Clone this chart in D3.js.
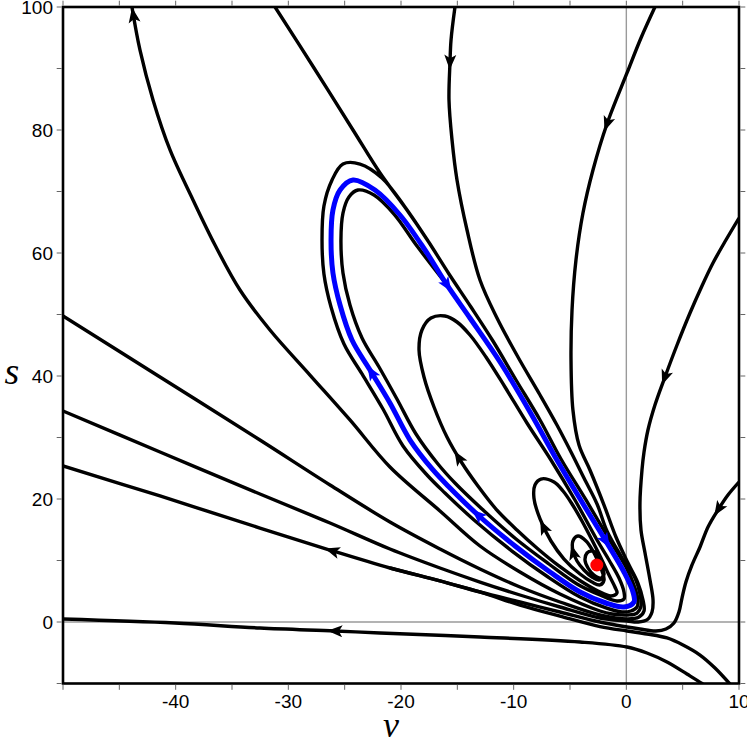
<!DOCTYPE html>
<html><head><meta charset="utf-8">
<script src="https://cdn.jsdelivr.net/npm/d3@7"></script>
<style>
html,body{margin:0;padding:0;background:#fff;}
svg{display:block;}
</style></head>
<body>
<svg id="chart" width="747" height="744"></svg>
<script>
// ---------- axis ticks ----------
const xTicks = d3.range(-50, 10.001, 5);
const xTickLabels = [-40, -30, -20, -10, 0, 10];
const yTicks = d3.range(-10, 100.001, 10);
const yTickLabels = [0, 20, 40, 60, 80, 100];

// ---------- data (v, s) ----------
const fixedPoint = [-2.62, 9.27];

const limitCycle = [[-24.26,71.87],[-22.31,70.24],[-20.09,66.18],[-17.87,60.49],[-15.92,54.80],[-13.88,49.43],[-11.21,42.28],[-8.55,34.15],[-6.16,26.34],[-3.94,19.51],[-1.72,12.85],[-0.21,8.13],[0.59,4.88],[0.68,3.25],[-0.21,2.44],[-1.81,3.09],[-4.11,4.88],[-6.78,8.13],[-9.88,12.36],[-13.17,17.40],[-15.65,21.79],[-17.16,24.72],[-19.20,29.59],[-20.98,35.61],[-22.75,40.98],[-24.35,45.85],[-25.41,51.54],[-26.04,56.75],[-26.21,62.11],[-26.04,66.99],[-25.41,70.24]];

const spiral = [[-2.60,9.27],[-2.25,8.78],[-1.98,7.80],[-2.25,7.15],[-2.87,7.64],[-3.40,8.78],[-3.67,10.08],[-3.49,11.22],[-3.05,11.54],
[-2.60,11.06],[-2.25,9.92],[-2.07,8.62],[-2.07,7.48],[-2.43,6.83],[-3.05,7.32],[-3.76,8.46],[-4.38,9.92],[-4.74,11.54],[-4.74,13.17],[-4.29,13.98],
[-3.58,13.17],[-2.96,11.54],[-2.52,9.92],[-2.16,8.29],[-1.98,6.83],[-2.34,6.02],[-3.05,6.50],[-4.11,7.80],[-5.53,10.24],[-6.69,13.17],[-7.66,16.75],[-8.20,20.16],[-8.11,22.28],[-7.58,23.25],
[-6.42,22.76],[-5.62,21.30],[-4.82,19.19],[-3.94,16.42],[-3.05,13.33],[-2.25,10.41],[-1.54,7.64],[-1.01,5.69],[-0.83,4.72],[-1.36,4.23],[-2.52,5.04],[-4.20,6.83],[-5.98,9.11],[-7.84,11.87],[-9.71,14.96],[-11.57,18.37],[-13.17,22.11],[-14.59,25.85],[-15.92,30.08],[-17.07,34.96],[-17.96,39.84],[-18.40,44.23],[-18.14,47.48],[-17.34,49.43],[-16.10,49.76],
[-15.03,48.78],[-13.88,46.67],[-12.46,43.09],[-10.77,38.21],[-8.82,32.36],[-6.69,26.34],[-4.56,19.84],[-2.60,13.33],[-1.54,10.08],[-0.65,7.15],[-0.21,4.88],[-0.21,3.74],[-0.83,3.41],[-2.34,4.39],[-4.38,6.18],[-6.87,9.43],[-9.79,13.50],[-12.81,18.37],[-15.21,22.60],[-16.72,25.69],[-18.67,30.57],[-20.36,36.26],[-21.95,41.46],[-23.46,46.18],[-24.53,51.54],[-25.15,56.75],[-25.33,62.11],[-25.15,66.50],[-24.62,69.11],[-23.82,70.24],[-22.40,69.43],[-20.62,66.34],[-18.58,61.14],[-15.92,54.80]];

const trajB = [[-31.18,100],[-27.72,90.08],[-24.26,80.00],[-21.86,73.01],[-19.47,66.99],[-17.60,61.95],[-15.74,56.59],[-13.79,51.22],[-11.84,45.69],[-9.79,39.35],[-7.66,32.85],[-5.80,26.50],[-3.58,19.84],[-1.54,13.50],[0.06,8.62],[0.77,5.53],[1.03,3.58],[0.95,2.44],[0.41,1.79],[-0.39,1.63],[-1.81,2.28],[-4.11,4.07],[-6.95,7.32],[-10.15,11.54],[-13.52,16.59],[-16.10,20.98],[-17.69,23.90],[-19.82,28.62],[-21.60,34.63],[-23.46,40.33],[-25.06,45.20],[-26.21,51.22],[-26.84,56.59],[-27.01,62.11],[-26.84,67.64],[-26.12,71.87],[-25.15,74.47],[-23.64,74.47],[-21.69,72.20],[-19.65,67.48],[-17.60,61.95]];

const trajC = [[-15.21,100],[-15.56,94.63],[-15.65,91.06],[-15.74,84.88],[-15.47,78.37],[-15.03,71.87],[-14.14,63.74],[-12.99,55.61],[-11.48,49.43],[-9.62,43.09],[-7.66,36.91],[-6.16,32.03],[-4.91,27.64],[-3.76,23.41],[-2.60,19.19],[-1.72,14.80],[-0.47,10.73],[0.77,7.15],[1.21,4.55],[1.30,2.60],[0.95,1.46],[0.15,1.14],[-1.27,1.30],[-2.34,1.79],[-5.89,4.55],[-9.44,8.13],[-12.99,12.36],[-16.54,18.05],[-20.98,25.20],[-24.53,32.85],[-28.08,40.16],[-31.63,47.48],[-34.29,53.98],[-36.51,61.30],[-38.46,68.62],[-40.50,76.75],[-42.01,84.88],[-43.17,93.01],[-43.88,100]];

const trajD = [[2.54,100],[1.30,94.96],[0.06,89.27],[-1.72,80.98],[-2.96,73.50],[-3.85,66.50],[-4.47,58.86],[-4.82,50.73],[-4.91,42.60],[-4.74,34.47],[-4.20,28.78],[-3.23,24.72],[-1.98,19.02],[-0.92,13.82],[0.15,9.59],[1.03,6.34],[1.48,3.58],[1.57,1.79],[1.12,0.81],[0.15,0.49],[-2.34,1.14],[-5.89,3.25],[-9.44,5.69],[-12.99,8.62],[-16.54,11.87],[-20.98,16.26],[-26.30,22.28],[-32.52,29.59],[-41.39,39.84],[-50,49.76]];

const trajE = [[10.0,65.69],[8.84,62.11],[7.69,58.37],[6.63,54.31],[5.65,50.24],[4.50,45.04],[3.43,39.84],[2.54,35.28],[1.92,31.22],[1.57,27.64],[1.39,24.72],[1.21,19.35],[1.30,14.96],[1.66,11.22],[2.10,6.83],[2.37,3.58],[2.28,1.63],[1.83,0.33],[1.03,0],[0.06,0.16],[-2.34,0.65],[-5.89,2.44],[-9.44,4.39],[-12.99,6.50],[-16.54,8.78],[-20.98,11.87],[-26.30,16.10],[-32.52,20.81],[-41.39,27.64],[-50,34.31]];

const trajF = [[10.0,22.76],[9.02,20.65],[8.13,18.21],[7.25,15.45],[6.54,12.20],[5.83,9.27],[5.29,6.50],[4.94,3.90],[4.67,1.63],[4.23,-0.16],[3.52,-1.14],[2.63,-1.46],[1.21,-1.14],[0.06,-0.81],[-2.34,0],[-5.89,1.63],[-9.44,3.25],[-12.99,4.88],[-16.54,6.67],[-20.98,8.78],[-26.04,11.54],[-32.52,15.28],[-41.39,20.49],[-50,25.37]];

const trajBR = [[9.4,-10.5],[7.87,-7.48],[6.54,-5.37],[5.03,-3.74],[3.61,-2.60],[1.83,-1.95],[0.06,-1.46],[-2.34,-0.74],[-5.89,0.95],[-9.44,2.75],[-12.99,4.88],[-16.54,6.67],[-20.98,8.78]];

const trajBottom = [[7.2,-10.7],[6.71,-10.0],[5.38,-8.46],[3.61,-6.50],[1.83,-5.04],[0.06,-4.07],[-4.11,-3.25],[-12.99,-2.44],[-21.86,-1.79],[-25.86,-1.46],[-32.52,-0.98],[-40.06,-0.16],[-50,0.49]];

// arrow positions [curve, v, s]
const arrowSpots = [
  ["C", -43.7, 98.7], ["C", -15.65, 91.06], ["D", -1.72, 80.98], ["E", 3.43, 39.84],
  ["F", 8.31, 18.21], ["F", -26.04, 11.54], ["bottom", -25.86, -1.46],
  ["spiral", -14.94, 26.67], ["spiral", -7.40, 15.28], ["spiral", -4.38, 11.38],
  ["cycle", -15.92, 54.80], ["cycle", -1.72, 13.33], ["cycle", -13.17, 17.40], ["cycle", -22.57, 40.65]
];

// ---------- drawing ----------
const svg = d3.select("#chart");
const L = 63, R = 739, T = 7, B = 683.5;
const x = d3.scaleLinear().domain([-50, 10]).range([L, R]);
const y = d3.scaleLinear().domain([-10, 100]).range([B, T]);

svg.append("defs").append("clipPath").attr("id", "clip")
  .append("rect").attr("x", L).attr("y", T).attr("width", R - L).attr("height", B - T);

const plot = svg.append("g").attr("clip-path", "url(#clip)");

// zero lines
plot.append("line").attr("x1", x(0)).attr("x2", x(0)).attr("y1", T).attr("y2", B)
  .attr("stroke", "#9a9a9a").attr("stroke-width", 1.4);
plot.append("line").attr("x1", L).attr("x2", R).attr("y1", y(0)).attr("y2", y(0))
  .attr("stroke", "#9a9a9a").attr("stroke-width", 1.4);

const line = d3.line().x(d => x(d[0])).y(d => y(d[1])).curve(d3.curveCatmullRom.alpha(0.5));
const closedLine = d3.line().x(d => x(d[0])).y(d => y(d[1])).curve(d3.curveCatmullRomClosed.alpha(0.5));

const blackCurves = {B: trajB, C: trajC, D: trajD, E: trajE, F: trajF, BR: trajBR, bottom: trajBottom, spiral: spiral};
const nodes = {};
for (const [k, d] of Object.entries(blackCurves)) {
  nodes[k] = plot.append("path").attr("d", line(d)).attr("fill", "none")
    .attr("stroke", "#000").attr("stroke-width", 3.4).attr("stroke-linejoin", "round").node();
}
nodes.cycle = plot.append("path").attr("d", closedLine(limitCycle)).attr("fill", "none")
  .attr("stroke", "#0000ff").attr("stroke-width", 5).node();

function locate(node, px, py) {
  const len = node.getTotalLength();
  let best = 0, bd = Infinity;
  for (let l = 0; l <= len; l += 1) {
    const p = node.getPointAtLength(l);
    const dd = (p.x - px) ** 2 + (p.y - py) ** 2;
    if (dd < bd) { bd = dd; best = l; }
  }
  const p0 = node.getPointAtLength(Math.max(0, best - 3));
  const p1 = node.getPointAtLength(Math.min(len, best + 3));
  const p = node.getPointAtLength(best);
  return {x: p.x, y: p.y, a: Math.atan2(p1.y - p0.y, p1.x - p0.x) * 180 / Math.PI};
}
const arrowShape = "M8,0 L-7,-6 L-3.5,0 L-7,6 Z";
arrowSpots.forEach(([c, v, s]) => {
  const q = locate(nodes[c], x(v), y(s));
  plot.append("path").attr("d", arrowShape)
    .attr("transform", `translate(${q.x},${q.y}) rotate(${q.a})`)
    .attr("fill", c === "cycle" ? "#0000ff" : "#000");
});

// fixed point
plot.append("circle").attr("cx", x(fixedPoint[0])).attr("cy", y(fixedPoint[1])).attr("r", 6.5).attr("fill", "#ff0000");

// frame
svg.append("rect").attr("x", L).attr("y", T).attr("width", R - L).attr("height", B - T)
  .attr("fill", "none").attr("stroke", "#000").attr("stroke-width", 2.6);

// ticks
const tk = 5, tc = "#666";
const tg = svg.append("g").attr("stroke", tc).attr("stroke-width", 1);
xTicks.forEach(v => {
  tg.append("line").attr("x1", x(v)).attr("x2", x(v)).attr("y1", B + 1.3).attr("y2", B + 1.3 + tk);
  tg.append("line").attr("x1", x(v)).attr("x2", x(v)).attr("y1", T - 1.3).attr("y2", T - 1.3 - tk);
});
yTicks.forEach(v => {
  tg.append("line").attr("y1", y(v)).attr("y2", y(v)).attr("x1", L - 1.3).attr("x2", L - 1.3 - tk);
  tg.append("line").attr("y1", y(v)).attr("y2", y(v)).attr("x1", R + 1.3).attr("x2", R + 1.3 + tk);
});

const font = "'Liberation Sans', Arial, sans-serif";
xTickLabels.forEach(v => {
  svg.append("text").attr("x", x(v)).attr("y", 708).attr("text-anchor", "middle")
    .attr("font-family", font).attr("font-size", 19).text(String(v));
});
yTickLabels.forEach(v => {
  svg.append("text").attr("x", 53).attr("y", y(v)).attr("dy", "0.36em").attr("text-anchor", "end")
    .attr("font-family", font).attr("font-size", 19).text(String(v));
});

// axis titles
svg.append("text").attr("x", 391).attr("y", 737).attr("text-anchor", "middle")
  .attr("font-family", "'Liberation Serif', 'DejaVu Serif', serif").attr("font-style", "italic")
  .attr("font-size", 36).text("v");
svg.append("text").attr("x", 12).attr("y", 384).attr("text-anchor", "middle")
  .attr("font-family", "'Liberation Serif', 'DejaVu Serif', serif").attr("font-style", "italic")
  .attr("font-size", 38).text("s");
</script>
</body></html>
